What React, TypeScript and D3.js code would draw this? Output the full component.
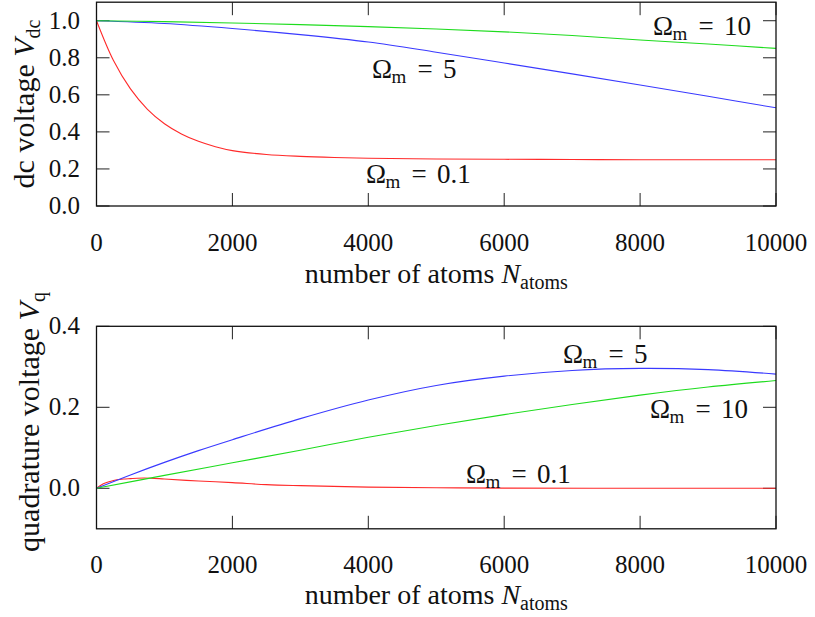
import React from "react";
import * as d3 from "d3";

// ---------- data ----------
const X_TICKS = [0, 2000, 4000, 6000, 8000, 10000];
const TOP_Y_TICKS = [0, 0.2, 0.4, 0.6, 0.8, 1.0];
const BOT_Y_TICKS = [0, 0.2, 0.4];

// top panel: dc voltage
const TOP_RED_N = [0, 250, 500, 750, 1000, 1250, 1500, 1750, 2000, 2500, 3000, 3500, 4000, 5000, 6000, 7000, 8000, 9000, 10000];
const TOP_RED_V = [1.0, 0.785, 0.632, 0.522, 0.444, 0.389, 0.349, 0.32, 0.299, 0.278, 0.268, 0.262, 0.258, 0.254, 0.252, 0.251, 0.25, 0.25, 0.25];
const TOP_BLUE_N = [0, 1000, 2000, 3000, 4000, 5000, 6000, 7000, 8000, 9000, 10000];
const TOP_BLUE_V = [1.0, 0.985, 0.958, 0.925, 0.885, 0.83, 0.772, 0.713, 0.653, 0.592, 0.53];
const TOP_GREEN_N = [0, 1000, 2000, 3000, 4000, 5000, 6000, 7000, 8000, 9000, 10000];
const TOP_GREEN_V = [1.0, 0.995, 0.988, 0.979, 0.968, 0.955, 0.94, 0.92, 0.896, 0.874, 0.851];

// bottom panel: quadrature voltage
const BOT_RED_N = [0, 100, 200, 300, 400, 500, 600, 800, 1000, 1500, 2000, 2500, 3000, 4000, 5000, 6000, 8000, 10000];
const BOT_RED_V = [0, 0.011, 0.017, 0.021, 0.023, 0.024, 0.025, 0.025, 0.023, 0.018, 0.014, 0.009, 0.0065, 0.003, 0.0015, 0.0005, 0, 0];
const BOT_BLUE_N = [0, 500, 1000, 1500, 2000, 3000, 4000, 5000, 6000, 7000, 8000, 9000, 10000];
const BOT_BLUE_V = [0, 0.033, 0.064, 0.093, 0.12, 0.172, 0.218, 0.254, 0.277, 0.291, 0.296, 0.293, 0.282];
const BOT_GREEN_N = [0, 1000, 2000, 3000, 4000, 5000, 6000, 7000, 8000, 9000, 10000];
const BOT_GREEN_V = [0, 0.032, 0.063, 0.094, 0.126, 0.155, 0.182, 0.207, 0.23, 0.25, 0.266];

const RED = "#ff2a2a";
const GREEN = "#1edc1e";
const BLUE = "#3a3aff";

const FONT = "'Liberation Serif', 'Times New Roman', serif";

const W = 815;
const H = 617;
const X_LEFT = 96.5;
const X_RIGHT = 776;
const TICK = 13;

type Series = { n: number[]; v: number[]; color: string };
type Label = { x: number; y: number; value: string };

const zip = (n: number[], v: number[]) => n.map((d, i) => [d, v[i]] as [number, number]);

function OmegaLabel({ x, y, value }: Label) {
  return (
    <g fontFamily={FONT} fill="#111">
      <text x={x} y={y} fontSize={27}>Ω</text>
      <text x={x + 19.5} y={y + 5} fontSize={19}>m</text>
      <text x={x + 53} y={y} fontSize={27} textAnchor="middle">=</text>
      <text x={x + 71} y={y} fontSize={27}>{value}</text>
    </g>
  );
}

function Panel(props: {
  yDomain: [number, number];
  yRange: [number, number];
  yTicks: number[];
  series: Series[];
  labels: Label[];
  xLabelY: number;
  tickLabelY: number;
  yLabel: { text: string; sub: string; x: number; cy: number };
  clipId: string;
}) {
  const { yDomain, yRange, yTicks, series, labels, xLabelY, tickLabelY, yLabel, clipId } = props;
  const x = d3.scaleLinear().domain([0, 10000]).range([X_LEFT, X_RIGHT]);
  const y = d3.scaleLinear().domain(yDomain).range(yRange);
  const line = d3
    .line<[number, number]>()
    .x((d) => x(d[0]))
    .y((d) => y(d[1]))
    .curve(d3.curveCatmullRom.alpha(0.5));
  const top = yRange[1];
  const bottom = yRange[0];
  const cx = (X_LEFT + X_RIGHT) / 2;
  return (
    <g>
      <defs>
        <clipPath id={clipId}>
          <rect x={X_LEFT} y={top} width={X_RIGHT - X_LEFT} height={bottom - top} />
        </clipPath>
      </defs>
      {/* ticks */}
      {X_TICKS.map((t) => (
        <g key={"xt" + t} stroke="#222" strokeWidth={1}>
          <line x1={x(t)} x2={x(t)} y1={bottom} y2={bottom - TICK} />
          <line x1={x(t)} x2={x(t)} y1={top} y2={top + TICK} />
        </g>
      ))}
      {yTicks.map((t) => (
        <g key={"yt" + t} stroke="#222" strokeWidth={1}>
          <line x1={X_LEFT} x2={X_LEFT + TICK} y1={y(t)} y2={y(t)} />
          <line x1={X_RIGHT} x2={X_RIGHT - TICK} y1={y(t)} y2={y(t)} />
        </g>
      ))}
      {/* curves */}
      <g clipPath={`url(#${clipId})`}>
        {series.map((s, i) => (
          <path key={i} d={line(zip(s.n, s.v)) || ""} fill="none" stroke={s.color} strokeWidth={1.1} />
        ))}
      </g>
      {/* frame */}
      <rect x={X_LEFT} y={top} width={X_RIGHT - X_LEFT} height={bottom - top} fill="none" stroke="#111" strokeWidth={1.3} />
      {/* tick labels */}
      {X_TICKS.map((t) => (
        <text key={"xl" + t} x={x(t)} y={tickLabelY} fontFamily={FONT} fontSize={25} textAnchor="middle" fill="#111">
          {t}
        </text>
      ))}
      {yTicks.map((t) => (
        <text key={"yl" + t} x={80} y={y(t) + 8} fontFamily={FONT} fontSize={25} textAnchor="end" fill="#111">
          {d3.format(".1f")(t)}
        </text>
      ))}
      {/* axis labels */}
      <text x={cx} y={xLabelY} fontFamily={FONT} fontSize={28} textAnchor="middle" fill="#111">
        number of atoms <tspan fontStyle="italic">N</tspan>
        <tspan fontSize={20} dy={6}>atoms</tspan>
      </text>
      <text
        transform={`translate(${yLabel.x},${yLabel.cy}) rotate(-90)`}
        fontFamily={FONT}
        fontSize={30}
        textAnchor="middle"
        fill="#111"
      >
        {yLabel.text} <tspan fontStyle="italic">V</tspan>
        <tspan fontSize={20} dy={6}>{yLabel.sub}</tspan>
      </text>
      {labels.map((l, i) => (
        <OmegaLabel key={i} {...l} />
      ))}
    </g>
  );
}

export default function App() {
  return (
    <svg
      width={W}
      height={H}
      viewBox={`0 0 ${W} ${H}`}
      style={{ position: "absolute", left: 0, top: 0, background: "#fff" }}
    >
      <rect width={W} height={H} fill="#fff" />
      <Panel
        clipId="clipTop"
        yDomain={[0, 1.1]}
        yRange={[206, 2.2]}
        yTicks={TOP_Y_TICKS}
        series={[
          { n: TOP_RED_N, v: TOP_RED_V, color: RED },
          { n: TOP_BLUE_N, v: TOP_BLUE_V, color: BLUE },
          { n: TOP_GREEN_N, v: TOP_GREEN_V, color: GREEN },
        ]}
        labels={[
          { x: 653, y: 35, value: "10" },
          { x: 372, y: 78, value: "5" },
          { x: 366, y: 183, value: "0.1" },
        ]}
        xLabelY={283}
        tickLabelY={251}
        yLabel={{ text: "dc voltage", sub: "dc", x: 34, cy: 104 }}
      />
      <Panel
        clipId="clipBot"
        yDomain={[-0.1, 0.4]}
        yRange={[528.8, 326.3]}
        yTicks={BOT_Y_TICKS}
        series={[
          { n: BOT_RED_N, v: BOT_RED_V, color: RED },
          { n: BOT_BLUE_N, v: BOT_BLUE_V, color: BLUE },
          { n: BOT_GREEN_N, v: BOT_GREEN_V, color: GREEN },
        ]}
        labels={[
          { x: 563, y: 363, value: "5" },
          { x: 650, y: 418, value: "10" },
          { x: 466, y: 483, value: "0.1" },
        ]}
        xLabelY={604}
        tickLabelY={573}
        yLabel={{ text: "quadrature voltage", sub: "q", x: 39, cy: 422 }}
      />
    </svg>
  );
}
